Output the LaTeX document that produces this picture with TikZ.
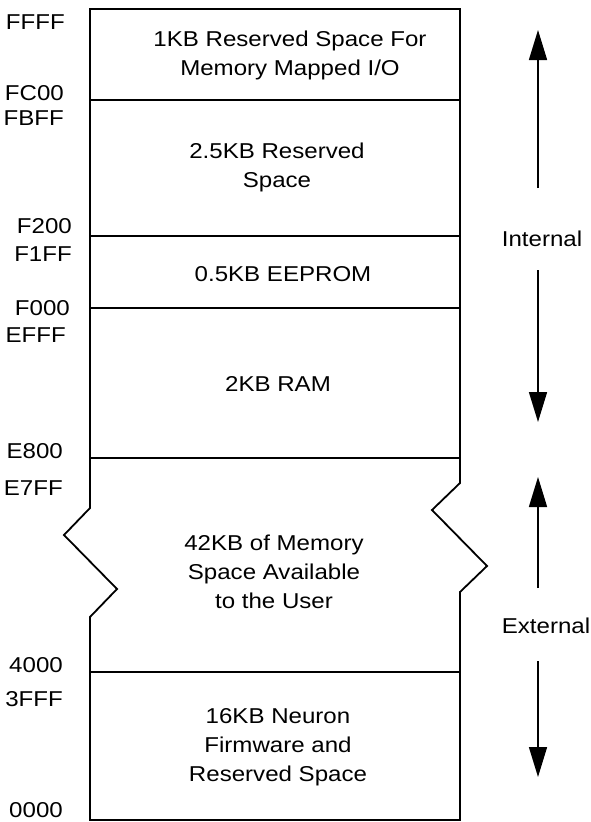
\documentclass[tikz,border=0pt]{standalone}
\usepackage{fontspec}
\setmainfont{Liberation Sans}
\usepackage{graphicx}
\usetikzlibrary{arrows.meta}
\newcommand\hs[1]{\scalebox{1.12}[1]{#1}}
\begin{document}
\begin{tikzpicture}[x=1pt,y=-1pt,
  wall/.style={line width=1.8pt, line join=miter},
  divider/.style={line width=1.6pt},
  lbl/.style={font=\fontsize{21.5}{29}\selectfont, inner sep=0pt, anchor=base, align=center},
  addr/.style={font=\fontsize{21.5}{29}\selectfont, inner sep=0pt, anchor=base east},
  span/.style={line width=1.5pt, -{Triangle[length=30pt,width=18pt]}}]
\useasboundingbox (0,0) rectangle (590,822);
% outline with breaks
\draw[wall] (90,9) -- (460,9) -- (460,483) -- (432,510) -- (487,566) -- (460,592)
  -- (460,820) -- (90,820) -- (90,617) -- (117,589) -- (64,535) -- (90,508) -- cycle;
% dividers
\foreach \y in {100,236,308,458,672} \draw[divider] (90,\y) -- (460,\y);
% block texts (anchor base = baseline of last line)
\node[lbl] (b1) at (290,75) {\hs{1KB Reserved Space For}\\\hs{Memory Mapped I/O}};
\node[lbl] (b2) at (277,187) {\hs{2.5KB Reserved}\\\hs{Space}};
\node[lbl] (b3) at (283,281) {\hs{0.5KB EEPROM}};
\node[lbl] (b4) at (278,391) {\hs{2KB RAM}};
\node[lbl] (b5) at (274,608) {\hs{42KB of Memory}\\\hs{Space Available}\\\hs{to the User}};
\node[lbl] (b6) at (278,781) {\hs{16KB Neuron}\\\hs{Firmware and}\\\hs{Reserved Space}};
% addresses
\node[addr] (aFFFF) at (65,29) {\hs{FFFF}};
\node[addr] (aFC00) at (64,100) {\hs{FC00}};
\node[addr] (aFBFF) at (64,125) {\hs{FBFF}};
\node[addr] (aF200) at (72,233) {\hs{F200}};
\node[addr] (aF1FF) at (72,261) {\hs{F1FF}};
\node[addr] (aF000) at (70,315) {\hs{F000}};
\node[addr] (aEFFF) at (66,342) {\hs{EFFF}};
\node[addr] (aE800) at (63,458) {\hs{E800}};
\node[addr] (aE7FF) at (63,495) {\hs{E7FF}};
\node[addr] (a4000) at (63,672) {\hs{4000}};
\node[addr] (a3FFF) at (63,706) {\hs{3FFF}};
\node[addr] (a0000) at (63,817) {\hs{0000}};
% range labels and arrows
\node[lbl] (int) at (542,246) {\hs{Internal}};
\node[lbl] (ext) at (546,633) {\hs{External}};
\coordinate (iu0) at (538,188); \coordinate (iu1) at (538,30);
\coordinate (id0) at (538,270); \coordinate (id1) at (538,422);
\coordinate (eu0) at (538,588); \coordinate (eu1) at (538,477);
\coordinate (ed0) at (538,661); \coordinate (ed1) at (538,777);
\draw[span] (iu0) -- (iu1);
\draw[span] (id0) -- (id1);
\draw[span] (eu0) -- (eu1);
\draw[span] (ed0) -- (ed1);
\end{tikzpicture}
\end{document}
